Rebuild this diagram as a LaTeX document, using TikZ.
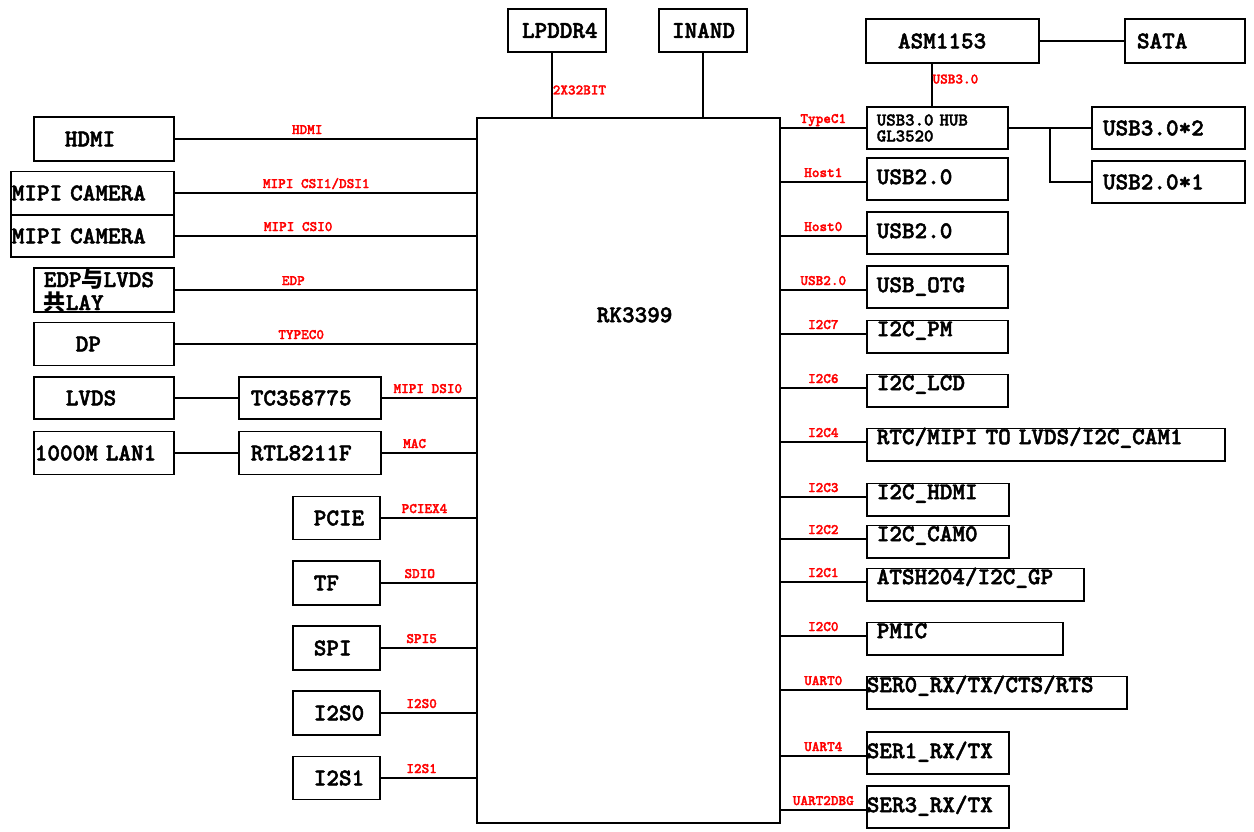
\documentclass[tikz,border=0pt]{standalone}
\usepackage{fontspec}
\newfontfamily\cjk{Noto Sans CJK SC}
\newfontfamily\monob{lmmonolt10-bold.otf}[RawFeature={embolden=2}]
\newcommand\boxfont{\monob\fontsize{24}{26}\selectfont}
\newcommand\hubfont{\monob\fontsize{18}{16}\selectfont}
\newcommand\sigfont{\monob\fontsize{14.5}{16}\selectfont}
\newcommand\hanzi[1]{{\cjk\bfseries\fontsize{22}{26}\selectfont #1}}
\tikzset{
	box/.style={draw, line width=1.6pt, inner ysep=0pt, align=left, font=\boxfont, text height=14.7pt, text depth=0pt},
	rbox/.style={box, anchor=mid west, inner xsep=10pt, text height=26.2pt, text depth=15.8pt},
	short/.style={text height=15.7pt, text depth=16.8pt},
	sig/.style={text=red, font=\sigfont, inner sep=0pt},
	sigv/.style={sig, anchor=base, yshift=5pt},
	wire/.style={line width=1.6pt},
}
\begin{document}
\begin{tikzpicture}[x=1pt, y=-1pt]
			\useasboundingbox (0,0) rectangle (1254,831);
			% SoC
			\node	(rk) at (476,117) [box, anchor=north west, inner xsep=120pt, text width=63pt, text height=204.4pt, text depth=500.6pt] {RK3399};
			% top
			\node	(lpddr) at (557,30.5) [box, inner xsep=14pt, text width=70pt, minimum height=43pt] {LPDDR4};
			\node	(inand) at (703,30.5) [box, inner xsep=13pt, text width=62pt, minimum height=43pt] {INAND};
			\node	(asm) at (952.5,41) [box, inner xsep=32pt, text width=109pt, minimum height=44pt] {ASM1153};
			\node	(sata) at (1185,41) [box, inner xsep=12pt, text width=96pt, minimum height=44pt] {SATA};
			\node	(hub) at (866,128) [box, anchor=west, font=\hubfont, text height={}, text depth={}, inner xsep=10pt, text width=121pt, minimum height=42pt] {USB3.0 HUB\\GL3520};
			\node	(uthree) at (1168.5,128) [box, inner xsep=11pt, text width=131pt, minimum height=42pt] {USB3.0*2};
			\node	(utwo) at (1168.5,182) [box, inner xsep=11pt, text width=131pt, minimum height=42pt] {USB2.0*1};
			\coordinate (split) at (1050,128);
			% left
			\node	(hdmi) at (33,139) [box, anchor=west, inner xsep=31pt, text width=78pt, minimum height=44pt] {HDMI};
			\node	(cama) at (10,193) [box, anchor=west, inner xsep=1pt, text width=161pt, minimum height=43pt] {MIPI CAMERA};
			\node	(camb) at (10,236) [box, anchor=west, inner xsep=1pt, text width=161pt, minimum height=42pt] {MIPI CAMERA};
			\node	(edp) at (33,290) [box, anchor=west, inner xsep=10pt, text width=120pt, text height=19pt, text depth=25pt] {EDP\hanzi{与}LVDS\\[-3pt]\hanzi{共}LAY};
			\node	(dp) at (33,344) [box, anchor=west, inner xsep=42pt, text width=56pt, minimum height=43pt] {DP};
			\node	(lvds) at (33,398) [box, anchor=west, inner xsep=32pt, text width=76pt, minimum height=42pt] {LVDS};
			\node	(lan) at (33,453) [box, anchor=west, inner xsep=1pt, text width=138pt, minimum height=43pt] {1000M LAN1};
			\node	(tc) at (238,398) [box, anchor=west, inner xsep=12pt, text width=118pt, minimum height=42pt] {TC358775};
			\node	(rtl) at (238,453) [box, anchor=west, inner xsep=12pt, text width=118pt, minimum height=43pt] {RTL8211F};
			\node	(pcie) at (292,518) [box, anchor=west, inner xsep=21pt, text width=45pt, minimum height=43pt] {PCIE};
			\node	(tf) at (292,583) [box, anchor=west, inner xsep=21pt, text width=45pt, minimum height=44pt] {TF};
			\node	(spi) at (292,648) [box, anchor=west, inner xsep=21pt, text width=45pt, minimum height=44pt] {SPI};
			\node	(iso) at (292,713) [box, anchor=west, inner xsep=21pt, text width=45pt, minimum height=44pt] {I2S0};
			\node	(isi) at (292,778) [box, anchor=west, inner xsep=21pt, text width=45pt, minimum height=43pt] {I2S1};
			% right
			\node	(usba) at (866,182) [rbox, text width=121pt] {USB2.0};
			\node	(usbb) at (866,236) [rbox, text width=121pt] {USB2.0};
			\node	(otg) at (866,290) [rbox, text width=121pt] {USB\_OTG};
			\node	(pm) at (866,334) [rbox, short, text width=121pt] {I2C\_PM};
			\node	(lcd) at (866,388) [rbox, short, text width=121pt] {I2C\_LCD};
			\node	(rtc) at (866,442) [rbox, short, text width=338pt] {RTC/MIPI TO LVDS/I2C\_CAM1};
			\node	(ihdmi) at (866,497) [rbox, short, text width=122pt] {I2C\_HDMI};
			\node	(icam) at (866,539) [rbox, short, text width=122pt] {I2C\_CAM0};
			\node	(gp) at (866,582) [rbox, short, text width=197pt] {ATSH204/I2C\_GP};
			\node	(pmic) at (866,636) [rbox, short, text width=176pt] {PMIC};
			\node	(sera) at (866,690) [rbox, short, inner xsep=0pt, text width=260pt] {SER0\_RX/TX/CTS/RTS};
			\node	(serb) at (866,756) [rbox, inner xsep=0pt, text width=142pt] {SER1\_RX/TX};
			\node	(serc) at (866,810) [rbox, inner xsep=0pt, text width=142pt] {SER3\_RX/TX};
			
			\draw[wire]
			([xshift=-5pt]lpddr.south) -- ([xshift=-5pt]lpddr.south |- rk.north) node[sig, pos=0.58, anchor=west] {2X32BIT}
			(inand) -- (inand |- rk.north)
			(asm) -- (sata)
			([xshift=-5.5pt]hub.north) -- ([xshift=-5.5pt]hub.north |- asm.south) node[sig, pos=0.64, anchor=west] {USB3.0}
			(hub) -- (uthree)
			(split) |- (utwo)
			;
			\draw[wire]
			(hdmi) -- (hdmi -| rk.west) node[sigv, pos=0.44] {HDMI}
			(cama) -- (cama -| rk.west) node[sigv, pos=0.47] {MIPI CSI1/DSI1}
			(camb) -- (camb -| rk.west) node[sigv, pos=0.41] {MIPI CSI0}
			(edp) -- (edp -| rk.west) node[sigv, pos=0.394] {EDP}
			(dp) -- (dp -| rk.west) node[sigv, pos=0.42] {TYPEC0}
			(lvds) -- (tc)
			(lan) -- (rtl)
			(tc) -- (tc -| rk.west) node[sigv, pos=0.49] {MIPI DSI0}
			(rtl) -- (rtl -| rk.west) node[sigv, pos=0.35] {MAC}
			(pcie) -- (pcie -| rk.west) node[sigv, pos=0.46] {PCIEX4}
			(tf) -- (tf -| rk.west) node[sigv, pos=0.41] {SDIO}
			(spi) -- (spi -| rk.west) node[sigv, pos=0.43] {SPI5}
			(iso) -- (iso -| rk.west) node[sigv, pos=0.43] {I2S0}
			(isi) -- (isi -| rk.west) node[sigv, pos=0.43] {I2S1}
			;
			\draw[wire]
			(rk.east |- hub.west) -- (hub.west) node[sigv, midway] {TypeC1}
			(rk.east |- usba.mid west) -- (usba.mid west) node[sigv, midway] {Host1}
			(rk.east |- usbb.mid west) -- (usbb.mid west) node[sigv, midway] {Host0}
			(rk.east |- otg.mid west) -- (otg.mid west) node[sigv, midway] {USB2.0}
			(rk.east |- pm.mid west) -- (pm.mid west) node[sigv, midway] {I2C7}
			(rk.east |- lcd.mid west) -- (lcd.mid west) node[sigv, midway] {I2C6}
			(rk.east |- rtc.mid west) -- (rtc.mid west) node[sigv, midway] {I2C4}
			(rk.east |- ihdmi.mid west) -- (ihdmi.mid west) node[sigv, midway] {I2C3}
			(rk.east |- icam.mid west) -- (icam.mid west) node[sigv, midway] {I2C2}
			(rk.east |- gp.mid west) -- (gp.mid west) node[sigv, midway] {I2C1}
			(rk.east |- pmic.mid west) -- (pmic.mid west) node[sigv, midway] {I2C0}
			(rk.east |- sera.mid west) -- (sera.mid west) node[sigv, midway] {UART0}
			(rk.east |- serb.mid west) -- (serb.mid west) node[sigv, midway] {UART4}
			(rk.east |- serc.mid west) -- (serc.mid west) node[sigv, midway] {UART2DBG}
			;
\end{tikzpicture}
\end{document}
